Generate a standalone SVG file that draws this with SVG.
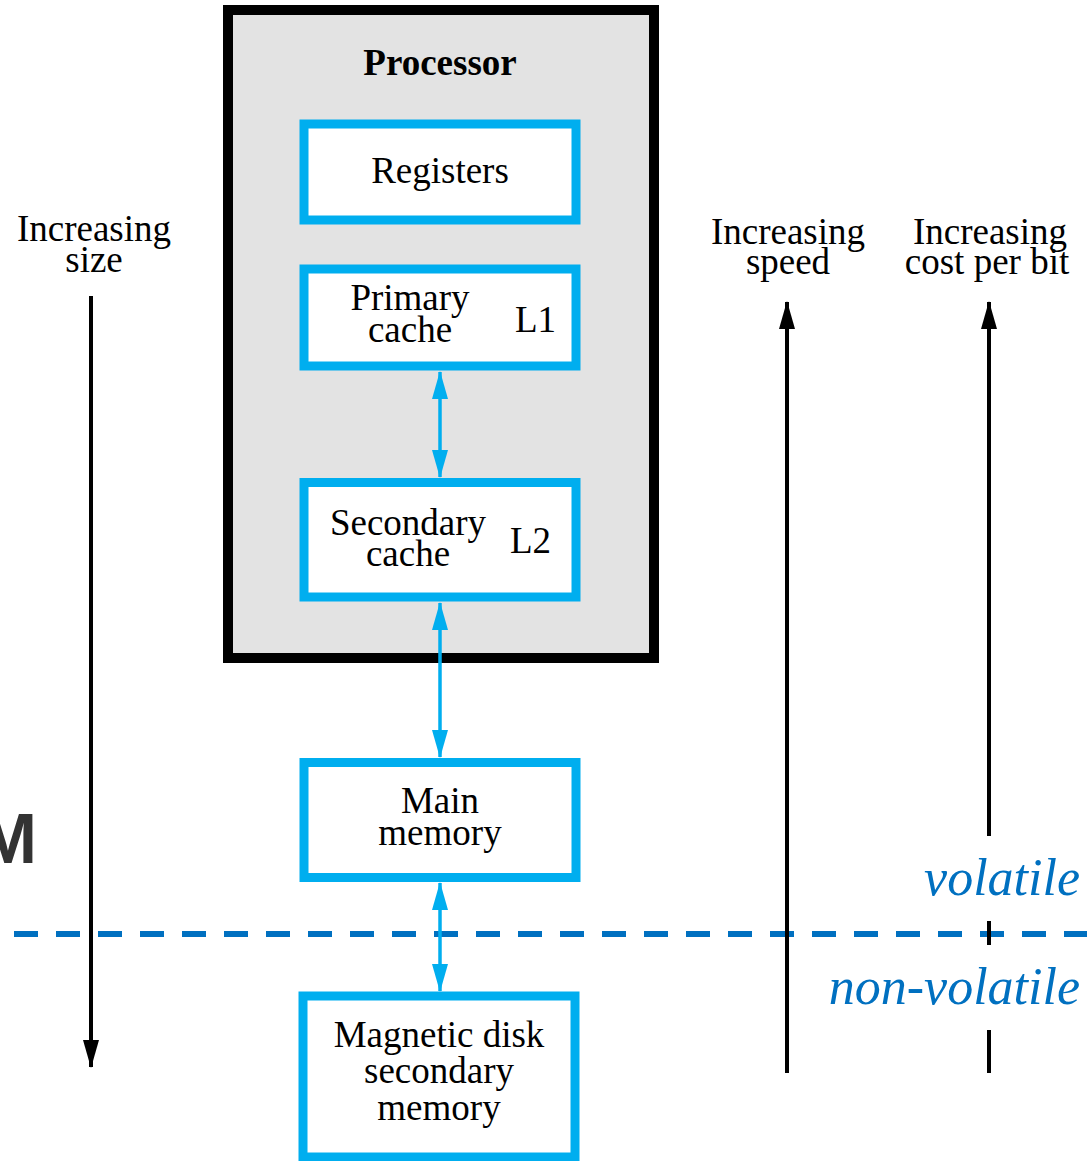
<svg xmlns="http://www.w3.org/2000/svg" width="1087" height="1161" viewBox="0 0 1087 1161">
  <style>
    .t { font-family: "Liberation Serif", "Times New Roman", serif; font-size: 37px; fill: #000; }
    .c { text-anchor: middle; }
    .box { fill: #fff; stroke: #00aeef; stroke-width: 9; }
    .blue { stroke: #00aeef; stroke-width: 3.5; fill: none; }
    .blk { stroke: #000; stroke-width: 4; fill: none; }
    .vol { font-family: "Liberation Serif", "Times New Roman", serif; font-style: italic; font-size: 52px; fill: #0070c0; text-anchor: end; }
  </style>
  <defs>
    <marker id="hb" viewBox="0 0 28 16" refX="27" refY="8" markerWidth="28" markerHeight="16" markerUnits="userSpaceOnUse" orient="auto-start-reverse">
      <path d="M0,0 L28,8 L0,16 z" fill="#00aeef"/>
    </marker>
    <marker id="hk" viewBox="0 0 28 16" refX="27" refY="8" markerWidth="28" markerHeight="16" markerUnits="userSpaceOnUse" orient="auto-start-reverse">
      <path d="M0,0 L28,8 L0,16 z" fill="#000"/>
    </marker>
  </defs>

  <rect width="1087" height="1161" fill="#fff"/>

  <!-- clipped heading letter at the left edge -->
  <text x="37" y="863" text-anchor="end" style="font-family:'Liberation Sans',Arial,sans-serif;font-weight:bold;font-size:70px;fill:#333">M</text>

  <!-- processor enclosure -->
  <g id="processor">
    <rect x="228" y="10" width="426" height="648" fill="#e3e3e3" stroke="#000" stroke-width="10"/>
    <text class="t c" x="440" y="75" font-weight="bold">Processor</text>
  </g>

  <g id="registers">
    <rect class="box" x="304" y="124" width="272" height="96"/>
    <text class="t c" x="440" y="183">Registers</text>
  </g>

  <g id="primary-cache">
    <rect class="box" x="304" y="269" width="272" height="97"/>
    <text class="t c" x="410" y="310">Primary</text>
    <text class="t c" x="410" y="342">cache</text>
    <text class="t" x="515" y="332">L1</text>
  </g>

  <g id="secondary-cache">
    <rect class="box" x="304" y="482.5" width="272" height="114.5"/>
    <text class="t c" x="408" y="535">Secondary</text>
    <text class="t c" x="408" y="566">cache</text>
    <text class="t" x="510" y="553">L2</text>
  </g>

  <g id="main-memory">
    <rect class="box" x="304" y="762.5" width="272" height="115"/>
    <text class="t c" x="440" y="813">Main</text>
    <text class="t c" x="440" y="845">memory</text>
  </g>

  <g id="magnetic-disk">
    <rect class="box" x="303" y="996" width="272" height="161"/>
    <text class="t c" x="439" y="1047">Magnetic disk</text>
    <text class="t c" x="439" y="1083">secondary</text>
    <text class="t c" x="439" y="1120">memory</text>
  </g>

  <!-- volatility boundary -->
  <g id="boundary">
    <line x1="14" y1="934" x2="1087" y2="934" stroke="#0070c0" stroke-width="6" stroke-dasharray="24 18"/>
    <text class="vol" x="1080" y="895">volatile</text>
    <text class="vol" x="1080" y="1004">non-volatile</text>
  </g>

  <!-- axis labels -->
  <g id="labels">
    <text class="t c" x="94" y="241">Increasing</text>
    <text class="t c" x="94" y="272">size</text>
    <text class="t c" x="788" y="244">Increasing</text>
    <text class="t c" x="788" y="274">speed</text>
    <text class="t c" x="990" y="244">Increasing</text>
    <text class="t c" x="987" y="274">cost per bit</text>
  </g>

  <g id="connectors">
    <line class="blue" x1="440" y1="372" x2="440" y2="477" marker-start="url(#hb)" marker-end="url(#hb)"/>
    <line class="blue" x1="440" y1="603" x2="440" y2="757" marker-start="url(#hb)" marker-end="url(#hb)"/>
    <line class="blue" x1="440" y1="883" x2="440" y2="991" marker-start="url(#hb)" marker-end="url(#hb)"/>

    <line class="blk" x1="91" y1="296" x2="91" y2="1067" marker-end="url(#hk)"/>
    <line class="blk" x1="787" y1="1073" x2="787" y2="302" marker-end="url(#hk)"/>
    <line class="blk" x1="989" y1="836" x2="989" y2="302" marker-end="url(#hk)"/>
    <line class="blk" x1="989" y1="921" x2="989" y2="945"/>
    <line class="blk" x1="989" y1="1030" x2="989" y2="1073"/>
  </g>
</svg>
